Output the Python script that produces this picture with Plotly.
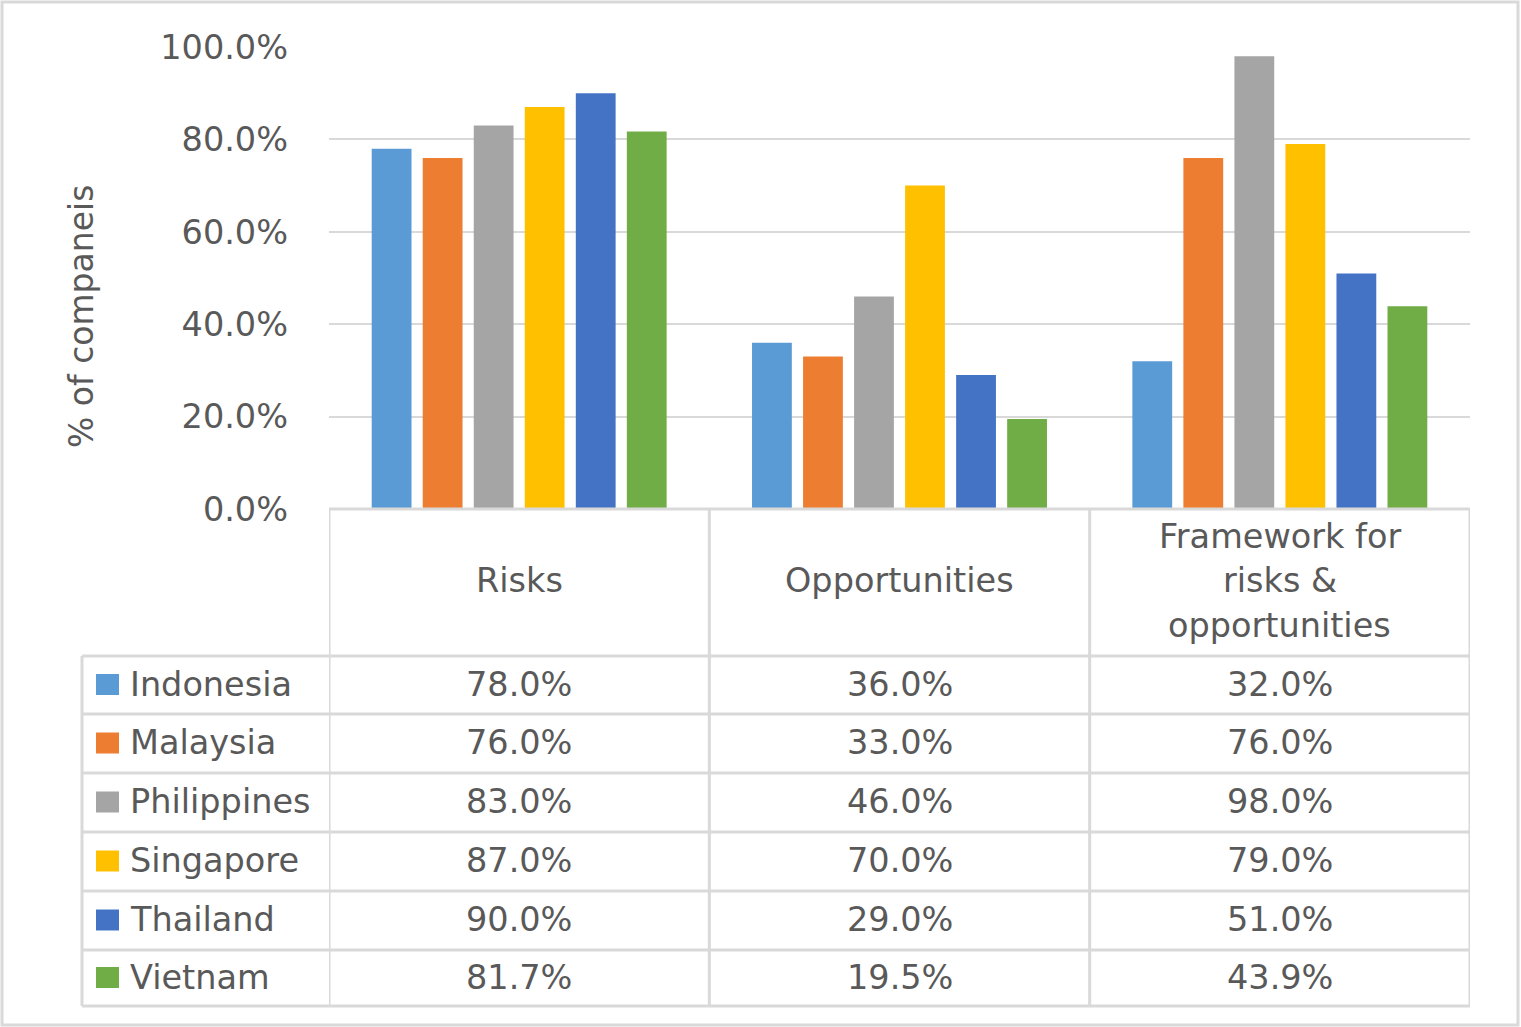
import plotly.graph_objects as go

# Categories (columns of the data table) and countries (series)
categories = ["Risks", "Opportunities", "Framework for risks & opportunities"]
category_labels = ["Risks", "Opportunities", "Framework for<br>risks &<br>opportunities"]
countries = ["Indonesia", "Malaysia", "Philippines", "Singapore", "Thailand", "Vietnam"]

indonesia = [78.0, 36.0, 32.0]
malaysia = [76.0, 33.0, 76.0]
philippines = [83.0, 46.0, 98.0]
singapore = [87.0, 70.0, 79.0]
thailand = [90.0, 29.0, 51.0]
vietnam = [81.7, 19.5, 43.9]

series = [indonesia, malaysia, philippines, singapore, thailand, vietnam]
colors = ["#5B9BD5", "#ED7D31", "#A5A5A5", "#FFC000", "#4472C4", "#70AD47"]

y_ticks = [0, 20, 40, 60, 80, 100]
y_tick_text = ["0.0%", "20.0%", "40.0%", "60.0%", "80.0%", "100.0%"]

# Canvas geometry (pixels)
W, H = 1521, 1027
L, R, T, B = 329, 1470, 47, 509
FONT = "DejaVu Sans"
FS = 33.5
TXT = "#595959"
LINE = "#d9d9d9"


def py(p):
    """pixel row -> paper y"""
    return (B - p) / (B - T)


def px(p):
    """pixel column -> paper x"""
    return (p - L) / (R - L)


fig = go.Figure()
for name, vals, col in zip(countries, series, colors):
    fig.add_trace(go.Bar(
        x=categories, y=vals, name=name,
        marker=dict(color=col, line=dict(width=0)),
        showlegend=False,
    ))

shapes = []
annotations = []

# Data table: row boundaries in pixels
header_top, header_bottom = 509, 656
row_edges = [656, 714, 773, 832, 891, 950, 1006]
table_left = 82
line_w = 3
header_line_gap = 44.5

# horizontal lines
shapes.append(dict(type="line", xref="paper", yref="paper",
                   x0=px(L), x1=px(R), y0=py(header_top), y1=py(header_top),
                   line=dict(color=LINE, width=line_w)))
for e in row_edges:
    shapes.append(dict(type="line", xref="paper", yref="paper",
                       x0=px(table_left), x1=px(R), y0=py(e), y1=py(e),
                       line=dict(color=LINE, width=line_w)))
# vertical lines at category boundaries
for xb in [-0.5, 0.5, 1.5, 2.5]:
    shapes.append(dict(type="line", xref="x", yref="paper",
                       x0=xb, x1=xb, y0=py(header_top), y1=py(row_edges[-1]),
                       line=dict(color=LINE, width=line_w)))
shapes.append(dict(type="line", xref="paper", yref="paper",
                   x0=px(table_left), x1=px(table_left),
                   y0=py(row_edges[0]), y1=py(row_edges[-1]),
                   line=dict(color=LINE, width=line_w)))

# header text, one annotation per line, centred in the header cell
header_mid = (header_top + header_bottom) / 2 - 2
for i, lab in enumerate(category_labels):
    lines = lab.split("<br>")
    n = len(lines)
    for k, ln in enumerate(lines):
        cy = header_mid + (k - (n - 1) / 2) * header_line_gap
        annotations.append(dict(x=i, xref="x", y=py(cy), yref="paper",
                                text=ln, showarrow=False, xanchor="center", yanchor="middle",
                                font=dict(family=FONT, size=FS, color=TXT)))

# country rows: legend key, name, values
for r, (name, vals, col) in enumerate(zip(countries, series, colors)):
    top, bot = row_edges[r], row_edges[r + 1]
    cy = (top + bot) / 2 - 1
    shapes.append(dict(type="rect", xref="paper", yref="paper",
                       x0=px(96), x1=px(119), y0=py(cy - 10), y1=py(cy + 11),
                       fillcolor=col, line=dict(width=0)))
    annotations.append(dict(x=px(128), xref="paper", y=py(cy), yref="paper",
                            text=name, showarrow=False, xanchor="left", yanchor="middle",
                            font=dict(family=FONT, size=FS, color=TXT)))
    for c, v in enumerate(vals):
        annotations.append(dict(x=c, xref="x", y=py(cy), yref="paper",
                                text=f"{v:.1f}%", showarrow=False,
                                xanchor="center", yanchor="middle",
                                font=dict(family=FONT, size=FS, color=TXT)))

# y-axis title
annotations.append(dict(x=px(81), xref="paper", y=py(317), yref="paper",
                        text="% of companeis", textangle=-90, showarrow=False,
                        xanchor="center", yanchor="middle",
                        font=dict(family=FONT, size=33, color=TXT)))

# outer frame
shapes.append(dict(type="rect", xref="paper", yref="paper",
                   x0=px(2), x1=px(1518), y0=py(2), y1=py(1025),
                   line=dict(color=LINE, width=3), fillcolor="rgba(0,0,0,0)"))

fig.update_layout(
    width=W, height=H,
    margin=dict(l=L, r=W - R, t=T, b=H - B, autoexpand=False),
    paper_bgcolor="white", plot_bgcolor="white",
    barmode="group", bargap=0.195, bargroupgap=0.22,
    shapes=shapes, annotations=annotations,
    xaxis=dict(showticklabels=False, showgrid=False, zeroline=False,
               showline=False, ticks="", range=[-0.5, 2.5]),
    yaxis=dict(range=[0, 100], tickvals=y_ticks, ticktext=y_tick_text,
               showgrid=True, gridcolor=LINE, gridwidth=2, zeroline=False,
               showline=False, ticks="", ticklabelstandoff=40,
               tickfont=dict(family=FONT, size=FS, color=TXT)),
)

fig.write_html("out.html")
